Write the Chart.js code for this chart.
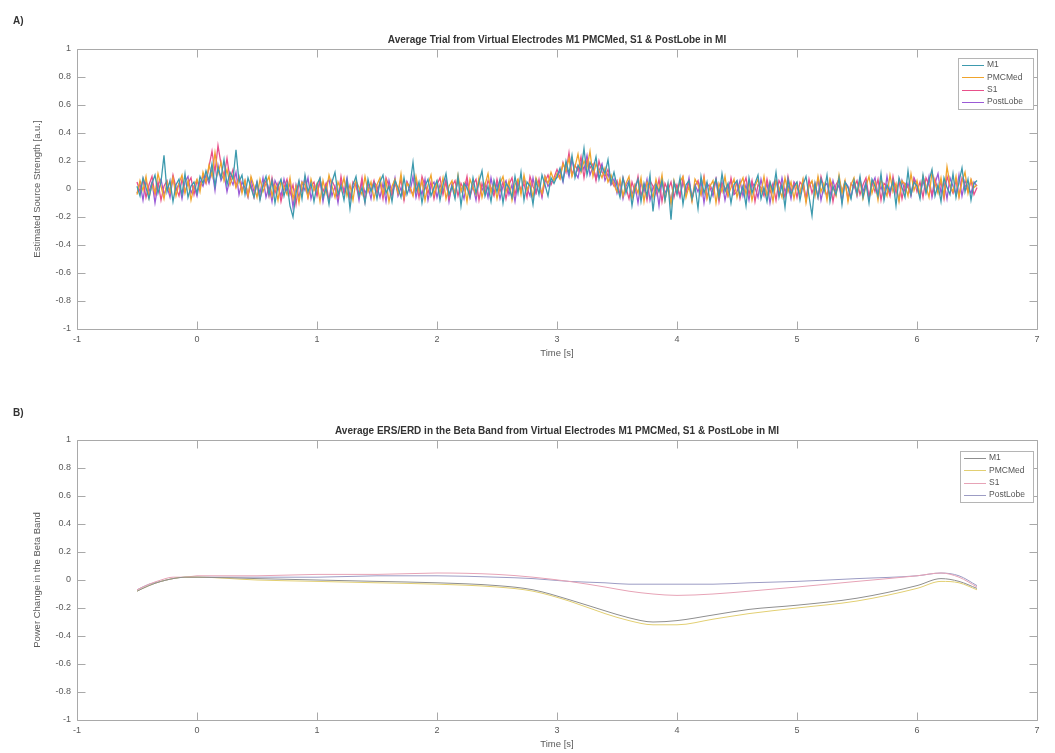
<!DOCTYPE html>
<html><head><meta charset="utf-8">
<script src="https://cdn.jsdelivr.net/npm/chart.js@4"></script>
<style>
html,body{margin:0;padding:0;background:#fff;width:1055px;height:753px;overflow:hidden}
.wrap{position:absolute;left:0;width:1055px}
#wa{top:0;height:375px}
#wb{top:375px;height:378px}
</style></head><body>
<div class="wrap" id="wa"><canvas id="ca"></canvas></div>
<div class="wrap" id="wb"><canvas id="cb"></canvas></div>
<script>
// ---------- data ----------
const seriesNames = ['M1', 'PMCMed', 'S1', 'PostLobe'];
const timeTicks = [-1, 0, 1, 2, 3, 4, 5, 6, 7];
const valueTicks = [-1, -0.8, -0.6, -0.4, -0.2, 0, 0.2, 0.4, 0.6, 0.8, 1];

// Panel A: average trial, sampled from -0.5 s every 0.025 s (one row = 0.5 s)
const trialStart = -0.5;
const trialStep = 0.025;
const trialM1 = [
 0.02,-0.05,0.08,0.01,-0.07,0.04,0.10,-0.03,0.05,0.24,-0.02,0.06,-0.09,0.03,0.07,-0.04,0.11,-0.06,0.02,0.05,
 -0.03,0.09,0.04,0.13,0.06,0.18,0.02,0.15,0.08,0.21,0.03,0.12,0.07,0.28,0.05,0.10,-0.04,0.08,0.01,-0.06,
 0.05,-0.08,0.03,0.09,-0.04,0.06,-0.10,0.02,0.07,-0.05,0.04,-0.12,-0.20,-0.03,0.06,-0.07,0.10,-0.02,0.04,-0.09,
 0.03,0.08,-0.06,0.01,-0.11,0.05,0.12,-0.04,0.02,-0.08,0.06,-0.14,0.03,0.09,-0.05,0.01,-0.10,0.07,-0.02,0.04,
 -0.07,0.05,0.10,-0.03,0.02,-0.09,0.06,0.01,-0.06,0.08,-0.04,0.03,0.19,-0.02,0.05,-0.10,0.02,0.07,-0.05,0.01,
 0.06,-0.08,0.03,0.11,-0.04,0.02,-0.07,0.09,-0.12,0.04,0.01,-0.06,0.08,-0.03,0.05,0.13,-0.05,0.02,-0.09,0.06,
 -0.02,0.07,-0.10,0.04,0.01,-0.06,0.09,-0.03,0.12,-0.08,0.05,0.02,-0.11,0.06,-0.04,0.10,0.03,-0.05,0.08,0.04,
 0.09,0.15,0.06,0.20,0.11,0.24,0.08,0.17,0.13,0.29,0.10,0.19,0.14,0.23,0.07,0.16,0.11,0.21,0.04,0.12,
 0.02,-0.06,0.08,-0.03,0.05,-0.12,0.01,0.07,-0.09,0.04,-0.05,0.10,-0.16,0.03,-0.02,0.06,-0.08,0.04,-0.22,0.05,
 -0.04,0.08,-0.11,0.03,0.06,-0.07,0.02,-0.14,0.09,-0.03,0.05,-0.09,0.01,0.07,-0.06,0.11,-0.02,0.04,-0.10,0.03,
 0.06,-0.05,0.02,-0.12,0.08,-0.03,0.04,0.10,-0.07,0.01,-0.09,0.05,-0.02,0.12,-0.06,0.03,-0.13,0.07,-0.04,0.02,
 0.05,-0.08,0.03,0.09,-0.05,-0.19,0.04,-0.06,0.07,-0.02,0.10,-0.09,0.02,-0.04,0.08,-0.11,0.05,0.01,-0.07,0.06,
 -0.03,0.09,-0.06,0.04,-0.10,0.07,0.02,-0.05,0.11,-0.08,0.03,-0.02,0.06,-0.12,0.08,0.01,-0.06,0.13,-0.04,0.05,
 0.02,-0.07,0.10,-0.03,0.06,0.14,-0.05,0.03,-0.09,0.08,0.01,-0.04,0.11,-0.06,0.05,0.15,-0.02,0.07,-0.08,0.04,
 0.06];
const trialPMCMed = [
 -0.04,0.06,-0.01,0.09,-0.06,0.03,-0.03,0.11,0.02,-0.07,0.05,-0.02,0.08,-0.05,0.04,0.10,-0.03,0.06,-0.08,0.02,
 0.07,-0.02,0.12,0.05,0.17,0.09,0.26,0.11,0.19,0.06,0.14,0.03,0.10,0.01,0.08,-0.03,0.06,-0.05,0.09,0.02,
 -0.06,0.07,-0.02,0.04,0.09,-0.05,0.03,-0.08,0.06,0.01,-0.04,0.08,-0.07,0.02,-0.10,0.05,0.03,-0.06,0.07,-0.01,
 0.04,-0.09,0.06,-0.03,0.10,0.02,-0.06,0.05,-0.01,0.08,-0.05,0.03,-0.08,0.06,0.01,-0.04,0.09,-0.02,0.05,-0.07,
 0.03,0.08,-0.04,0.06,-0.09,0.02,0.07,-0.03,0.11,-0.06,0.04,0.01,-0.05,0.09,-0.02,0.06,-0.08,0.03,0.10,-0.04,
 0.05,-0.03,0.08,-0.07,0.02,0.06,-0.05,0.10,-0.02,0.04,-0.09,0.07,0.01,-0.04,0.08,-0.06,0.03,0.11,-0.03,0.05,
 -0.07,0.04,0.09,-0.02,0.06,-0.08,0.03,0.07,-0.04,0.10,-0.01,0.05,-0.06,0.08,0.02,-0.03,0.09,0.04,0.12,0.06,
 0.11,0.07,0.18,0.13,0.22,0.09,0.16,0.25,0.12,0.20,0.15,0.27,0.09,0.18,0.13,0.08,0.15,0.05,0.10,0.03,
 -0.02,0.07,-0.05,0.04,0.09,-0.07,0.03,-0.03,0.08,-0.09,0.05,0.01,-0.06,0.07,-0.02,0.10,-0.08,0.03,-0.11,0.06,
 -0.03,0.05,0.09,-0.06,0.02,-0.09,0.07,0.03,-0.04,0.08,-0.07,0.02,0.06,-0.10,0.04,-0.02,0.09,-0.05,0.01,0.07,
 -0.06,0.03,0.08,-0.04,0.05,-0.08,0.02,0.07,-0.03,0.09,-0.05,0.04,-0.09,0.06,0.01,-0.06,0.08,-0.02,0.05,-0.07,
 0.04,-0.03,0.07,-0.10,0.02,0.06,-0.05,0.09,-0.02,0.04,-0.08,0.07,0.01,-0.05,0.10,-0.03,0.06,-0.09,0.03,0.08,
 -0.04,0.06,-0.07,0.02,0.09,-0.03,0.05,-0.08,0.07,0.01,-0.05,0.10,-0.02,0.04,-0.09,0.06,0.03,-0.05,0.11,-0.01,
 0.06,-0.04,0.09,0.02,-0.06,0.12,0.04,-0.03,0.08,-0.05,0.16,0.03,-0.02,0.09,-0.06,0.05,0.12,-0.03,0.07,0.01,
 0.03];
const trialS1 = [
 0.05,-0.02,0.07,-0.06,0.03,0.09,-0.04,0.05,-0.08,0.02,0.06,-0.03,0.10,0.01,-0.05,0.07,-0.02,0.04,0.08,-0.04,
 0.06,0.01,0.10,0.04,0.16,0.27,0.12,0.31,0.18,0.09,0.22,0.07,0.14,0.02,0.09,-0.01,0.06,-0.04,0.03,-0.06,
 0.04,-0.07,0.02,0.06,-0.05,0.08,-0.03,0.04,-0.09,0.01,0.07,-0.04,0.03,-0.11,0.05,-0.02,0.08,-0.06,0.02,0.05,
 -0.05,0.07,-0.02,0.04,-0.08,0.06,0.01,-0.06,0.09,-0.03,0.03,-0.07,0.05,0.02,-0.04,0.08,-0.09,0.04,-0.01,0.06,
 -0.03,0.05,-0.07,0.08,0.02,-0.05,0.04,-0.02,0.07,-0.08,0.05,0.01,-0.04,0.06,-0.06,0.09,0.02,-0.03,0.05,-0.07,
 0.03,0.08,-0.04,0.05,-0.07,0.02,0.06,-0.05,0.04,-0.01,0.09,-0.06,0.03,0.07,-0.08,0.04,-0.03,0.06,0.01,-0.05,
 0.07,-0.02,0.05,-0.07,0.03,0.08,-0.04,0.06,-0.01,0.04,-0.06,0.09,0.02,-0.03,0.07,-0.05,0.05,0.10,0.03,0.08,
 0.14,0.08,0.19,0.12,0.26,0.10,0.17,0.13,0.23,0.08,0.21,0.15,0.18,0.06,0.20,0.12,0.09,0.14,0.06,0.02,
 0.06,-0.04,0.08,0.01,-0.07,0.05,-0.02,0.09,-0.05,0.03,-0.08,0.06,0.02,-0.04,0.07,-0.09,0.04,-0.01,0.05,-0.06,
 0.03,-0.05,0.08,-0.02,0.05,-0.08,0.02,0.06,-0.04,0.09,-0.06,0.03,-0.02,0.07,-0.09,0.04,0.01,-0.05,0.08,-0.03,
 0.05,-0.07,0.02,0.08,-0.04,0.06,-0.09,0.03,0.01,-0.05,0.07,-0.03,0.04,-0.08,0.06,0.02,-0.06,0.09,-0.02,0.04,
 -0.06,0.05,0.02,-0.08,0.07,-0.03,0.04,-0.06,0.09,0.01,-0.05,0.06,-0.09,0.03,0.07,-0.02,0.05,-0.07,0.04,0.01,
 0.06,-0.04,0.03,0.08,-0.06,0.05,-0.02,0.07,-0.08,0.04,0.02,-0.05,0.09,-0.03,0.06,-0.07,0.04,0.01,-0.04,0.07,
 -0.02,0.05,-0.06,0.08,0.03,-0.04,0.07,-0.01,0.05,-0.07,0.09,0.02,-0.03,0.06,-0.05,0.08,0.03,-0.02,0.06,-0.04,
 0.01];
const trialPostLobe = [
 -0.03,0.04,-0.08,0.06,-0.02,0.05,-0.10,0.03,0.07,-0.04,0.02,-0.06,0.08,-0.01,0.04,-0.07,0.05,0.09,-0.03,0.02,
 -0.05,0.06,0.02,0.10,0.04,0.14,-0.01,0.17,0.06,0.11,-0.02,0.08,0.03,0.12,-0.04,0.05,0.01,-0.06,0.07,-0.02,
 0.05,-0.03,0.08,-0.06,0.02,-0.09,0.06,0.01,-0.05,0.07,-0.02,0.04,-0.13,0.03,-0.06,0.05,-0.01,0.08,-0.07,0.02,
 -0.04,0.06,-0.09,0.03,0.07,-0.05,0.02,-0.10,0.05,-0.02,0.08,-0.06,0.01,0.04,-0.08,0.06,-0.03,0.02,-0.07,0.05,
 0.02,-0.06,0.04,-0.09,0.06,-0.03,0.08,-0.05,0.01,-0.07,0.05,-0.02,0.09,-0.06,0.03,-0.04,0.07,-0.08,0.02,0.05,
 -0.06,0.03,-0.02,0.07,-0.09,0.04,-0.03,0.06,0.01,-0.07,0.05,-0.04,0.02,-0.08,0.06,-0.01,0.04,-0.06,0.08,-0.03,
 0.04,-0.07,0.02,0.06,-0.04,0.03,-0.09,0.05,-0.02,0.07,0.01,-0.05,0.08,-0.03,0.04,-0.06,0.09,0.02,0.05,0.07,
 0.08,0.13,0.05,0.17,0.09,0.21,0.12,0.08,0.19,0.14,0.24,0.10,0.16,0.07,0.13,0.18,0.06,0.11,0.03,0.07,
 -0.03,0.05,-0.07,0.02,0.06,-0.04,0.03,-0.10,0.05,-0.02,0.07,-0.08,0.01,0.04,-0.12,0.06,-0.03,0.02,-0.09,0.04,
 0.02,-0.06,0.05,-0.03,0.08,-0.07,0.03,-0.02,0.06,-0.10,0.04,0.01,-0.05,0.07,-0.03,0.05,-0.08,0.02,0.06,-0.04,
 -0.02,0.06,-0.05,0.03,-0.08,0.05,0.01,-0.06,0.07,-0.03,0.04,-0.10,0.02,0.06,-0.04,0.08,-0.02,0.03,-0.07,0.05,
 0.01,-0.04,0.06,-0.07,0.03,0.05,-0.03,0.07,-0.08,0.02,0.04,-0.05,0.06,-0.02,0.03,-0.09,0.05,0.02,-0.06,0.04,
 -0.05,0.07,-0.02,0.05,-0.07,0.03,0.08,-0.04,0.02,-0.06,0.09,-0.03,0.05,0.01,-0.08,0.06,-0.02,0.04,-0.05,0.08,
 0.03,-0.05,0.06,-0.02,0.09,-0.06,0.04,0.11,-0.03,0.05,-0.07,0.08,0.02,-0.04,0.10,-0.05,0.06,0.01,-0.03,0.05,
 0.02];

// Panel B: beta-band power change
const betaTime = [-0.5,-0.4,-0.3,-0.2,-0.1,0,0.5,1,1.5,2,2.5,2.8,3.1,3.4,3.6,3.8,4.0,4.3,4.6,5.0,5.5,6.0,6.2,6.35,6.5];
const betaM1 = [-0.08,-0.04,-0.01,0.01,0.02,0.02,0.01,0.00,-0.01,-0.02,-0.04,-0.07,-0.14,-0.22,-0.27,-0.30,-0.29,-0.25,-0.21,-0.18,-0.13,-0.04,0.01,-0.01,-0.06];
const betaPMCMed = [-0.08,-0.04,-0.01,0.01,0.02,0.02,0.00,-0.01,-0.02,-0.03,-0.05,-0.08,-0.15,-0.24,-0.29,-0.32,-0.32,-0.28,-0.24,-0.20,-0.15,-0.06,-0.01,-0.02,-0.07];
const betaS1 = [-0.07,-0.03,0.00,0.02,0.02,0.03,0.03,0.04,0.04,0.05,0.04,0.02,-0.01,-0.05,-0.08,-0.10,-0.11,-0.10,-0.08,-0.05,-0.01,0.03,0.05,0.02,-0.05];
const betaPostLobe = [-0.07,-0.03,-0.01,0.01,0.02,0.02,0.02,0.02,0.03,0.03,0.02,0.01,-0.01,-0.02,-0.03,-0.03,-0.03,-0.03,-0.02,-0.01,0.01,0.03,0.05,0.03,-0.04];

// ---------- styling ----------
const FONT = "'Liberation Sans', Arial, sans-serif";
const AXIS_COLOR = '#a9a9a9';
const TEXT_COLOR = '#5a5a5a';
const colorsA = ['#3d9aae', '#f0a42c', '#e8508a', '#9a5ad6'];
const colorsB = ['#8f8f8f', '#e2cf72', '#e7a3b6', '#9c9cc4'];

const framePlugin = {
  id: 'frame',
  afterDatasetsDraw(chart, args, o) {
    const { ctx, chartArea: a, scales: { x, y } } = chart;
    ctx.save();
    ctx.strokeStyle = AXIS_COLOR;
    ctx.lineWidth = 1;
    const L = Math.round(a.left) + 0.5, R = Math.round(a.right) + 0.5;
    const T = Math.round(a.top) + 0.5, B = Math.round(a.bottom) + 0.5;
    ctx.beginPath();
    ctx.rect(L, T, R - L, B - T);
    x.ticks.forEach(t => {
      const px = Math.round(x.getPixelForValue(t.value)) + 0.5;
      ctx.moveTo(px, B); ctx.lineTo(px, B - 8);
      ctx.moveTo(px, T); ctx.lineTo(px, T + 8);
    });
    y.ticks.forEach(t => {
      const py = Math.round(y.getPixelForValue(t.value)) + 0.5;
      ctx.moveTo(L, py); ctx.lineTo(L + 8, py);
      ctx.moveTo(R, py); ctx.lineTo(R - 8, py);
    });
    ctx.stroke();

    // legend
    const lg = o.legend;
    ctx.fillStyle = '#fff';
    ctx.fillRect(lg.x, lg.y, lg.w, lg.h);
    ctx.strokeStyle = '#b5b5b5';
    ctx.strokeRect(lg.x + 0.5, lg.y + 0.5, lg.w, lg.h);
    ctx.font = '8.5px ' + FONT;
    ctx.textBaseline = 'middle';
    ctx.textAlign = 'left';
    chart.data.datasets.forEach((ds, i) => {
      const yy = lg.y + 7 + i * 12.3;
      ctx.strokeStyle = ds.borderColor;
      ctx.lineWidth = 1;
      ctx.beginPath();
      ctx.moveTo(lg.x + 4, Math.round(yy) + 0.5);
      ctx.lineTo(lg.x + 26, Math.round(yy) + 0.5);
      ctx.stroke();
      ctx.fillStyle = '#555';
      ctx.fillText(ds.label, lg.x + 29, yy);
    });

    // title and panel label
    ctx.fillStyle = '#333';
    ctx.font = 'bold 10px ' + FONT;
    ctx.textAlign = 'center';
    ctx.textBaseline = 'middle';
    ctx.fillText(o.title, (a.left + a.right) / 2, a.top - 9);
    ctx.textAlign = 'left';
    ctx.fillText(o.panel, 13, o.panelY);
    ctx.restore();
  }
};

function makeChart(id, datasets, cfg) {
  return new Chart(document.getElementById(id), {
    type: 'line',
    data: { datasets },
    plugins: [framePlugin],
    options: {
      responsive: true,
      maintainAspectRatio: false,
      animation: false,
      events: [],
      layout: { padding: cfg.padding },
      elements: { point: { radius: 0 }, line: { borderWidth: 1 } },
      plugins: {
        legend: { display: false },
        tooltip: { enabled: false },
        title: { display: false },
        frame: { legend: cfg.legend, title: cfg.title, panel: cfg.panel, panelY: cfg.panelY }
      },
      scales: {
        x: {
          type: 'linear',
          min: timeTicks[0], max: timeTicks[timeTicks.length - 1],
          afterBuildTicks: s => { s.ticks = timeTicks.map(v => ({ value: v })); },
          afterFit: s => { s.height = 32; },
          grid: { display: false, drawTicks: false },
          border: { display: false },
          ticks: { padding: 5, color: TEXT_COLOR, font: { family: FONT, size: 9 }, callback: v => String(v), maxRotation: 0 },
          title: { display: true, text: 'Time [s]', color: TEXT_COLOR, font: { family: FONT, size: 9.5 }, padding: { top: 0, bottom: 2 } }
        },
        y: {
          min: valueTicks[0], max: valueTicks[valueTicks.length - 1],
          afterBuildTicks: s => { s.ticks = valueTicks.map(v => ({ value: v })); },
          afterFit: s => { s.width = 49; },
          grid: { display: false, drawTicks: false },
          border: { display: false },
          ticks: { padding: 6, color: TEXT_COLOR, font: { family: FONT, size: 9 }, callback: v => String(v) },
          title: { display: true, text: cfg.ylabel, color: TEXT_COLOR, font: { family: FONT, size: 9.5 }, padding: { top: 4, bottom: 0 } }
        }
      }
    }
  });
}

const trialSeries = [trialM1, trialPMCMed, trialS1, trialPostLobe];
const dsA = seriesNames.map((name, k) => ({
  label: name,
  data: trialSeries[k].map((v, i) => ({ x: trialStart + i * trialStep, y: v })),
  borderColor: colorsA[k],
  borderWidth: 1.3,
  tension: 0,
  fill: false
}));

const betaSeries = [betaM1, betaPMCMed, betaS1, betaPostLobe];
const dsB = seriesNames.map((name, k) => ({
  label: name,
  data: betaSeries[k].map((v, i) => ({ x: betaTime[i], y: v })),
  borderColor: colorsB[k],
  borderWidth: 1,
  cubicInterpolationMode: 'monotone',
  fill: false
}));

makeChart('ca', dsA, {
  padding: { top: 49, left: 28, right: 18, bottom: 14 },
  legend: { x: 958, y: 58, w: 75, h: 51 },
  title: 'Average Trial from Virtual Electrodes M1 PMCMed, S1 & PostLobe in MI',
  panel: 'A)', panelY: 21,
  ylabel: 'Estimated Source Strength [a.u.]'
});
makeChart('cb', dsB, {
  padding: { top: 65, left: 28, right: 18, bottom: 1 },
  legend: { x: 960, y: 76, w: 73, h: 51 },
  title: 'Average ERS/ERD in the Beta Band from Virtual Electrodes M1 PMCMed, S1 & PostLobe in MI',
  panel: 'B)', panelY: 38,
  ylabel: 'Power Change in the Beta Band'
});
</script>
</body></html>
